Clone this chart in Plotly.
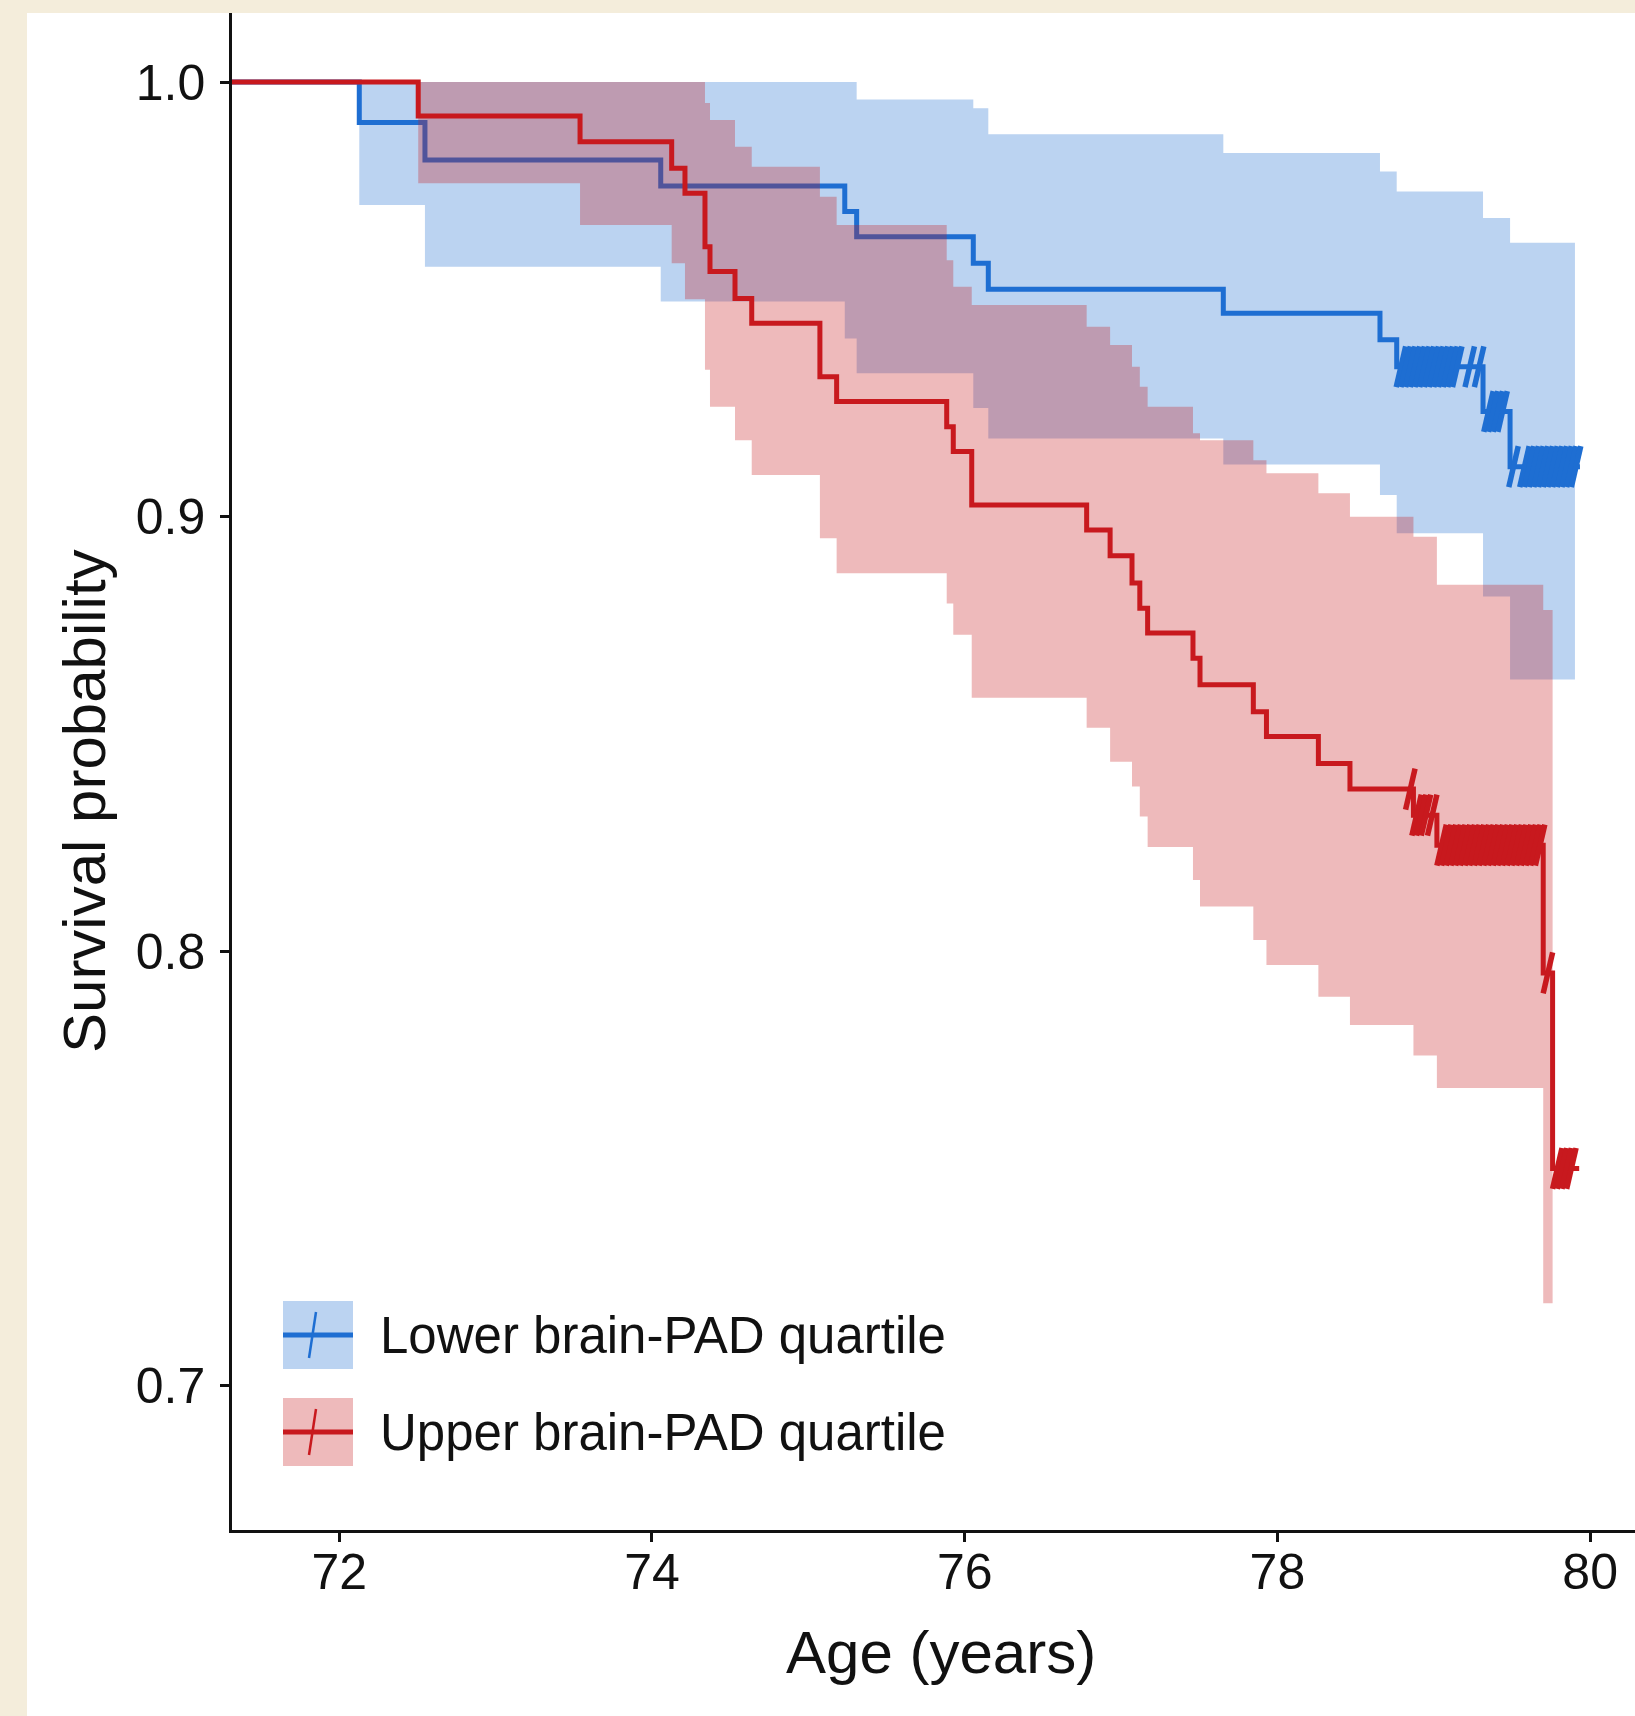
import plotly.graph_objects as go

# ---------------- data ----------------
x_start = 71.314            # start of follow-up (left edge of axis)
x_tick_vals = [72, 74, 76, 78, 80]
y_tick_vals = [0.7, 0.8, 0.9, 1.0]
y_tick_text = ["0.7", "0.8", "0.9", "1.0"]

series_names = ["Lower brain-PAD quartile", "Upper brain-PAD quartile"]

# Lower brain-PAD quartile (blue)
low_times = [72.128, 72.548, 74.056, 75.233, 75.309, 76.055, 76.151, 77.654,
             78.656, 78.763, 79.315, 79.488]
low_surv = [0.9907, 0.9821, 0.9761, 0.9702, 0.9644, 0.9583, 0.9523, 0.9468,
            0.9407, 0.9345, 0.9242, 0.9115]
low_ci_lower = [0.9717, 0.9575, 0.9495, 0.9410, 0.9330, 0.9250, 0.9180, 0.9120,
                0.9050, 0.8962, 0.8816, 0.8625]
low_ci_upper = [1.0, 1.0, 1.0, 1.0, 0.9960, 0.9940, 0.9880, 0.9837,
                0.9794, 0.9748, 0.9687, 0.9630]
low_line_end = 79.935
low_ci_end = 79.903
low_censor = [78.79, 78.82, 78.85, 78.88, 78.91, 78.94, 78.97, 79.00, 79.03,
              79.06, 79.09, 79.12, 79.15, 79.23, 79.29,
              79.35, 79.38, 79.41, 79.44,
              79.51, 79.58, 79.61, 79.64, 79.67, 79.70, 79.73, 79.76, 79.79,
              79.82, 79.85, 79.88, 79.91]

# Upper brain-PAD quartile (red)
up_times = [72.505, 73.540, 74.126, 74.211, 74.339, 74.371, 74.531, 74.638,
            75.074, 75.181, 75.885, 75.927, 76.045, 76.780, 76.930, 77.070,
            77.120, 77.170, 77.460, 77.505, 77.846, 77.930, 78.262, 78.464,
            78.870, 79.020, 79.700, 79.760]
up_surv = [0.9922, 0.9863, 0.9802, 0.9744, 0.9621, 0.9564, 0.9502, 0.9445,
           0.9322, 0.9265, 0.9207, 0.9150, 0.9027, 0.8969, 0.8910, 0.8847,
           0.8789, 0.8732, 0.8674, 0.8613, 0.8551, 0.8494, 0.8432, 0.8373,
           0.8313, 0.8244, 0.7950, 0.7500]
up_ci_lower = [0.9767, 0.9671, 0.9583, 0.9500, 0.9338, 0.9253, 0.9176, 0.9096,
               0.8950, 0.8870, 0.8800, 0.8728, 0.8583, 0.8514, 0.8436, 0.8379,
               0.8310, 0.8240, 0.8164, 0.8103, 0.8026, 0.7968, 0.7895, 0.7830,
               0.7760, 0.7685, 0.7190]
up_ci_upper = [1.0, 1.0, 1.0, 1.0, 0.9952, 0.9913, 0.9851, 0.9805,
               0.9736, 0.9671, 0.9590, 0.9529, 0.9487, 0.9437, 0.9395, 0.9345,
               0.9299, 0.9253, 0.9192, 0.9176, 0.9130, 0.9100, 0.9054, 0.9000,
               0.8954, 0.8843, 0.8785]
up_line_end = 79.930
up_ci_end = 79.760
up_censor = [78.85, 78.89, 78.92, 78.95, 78.99,
             79.05, 79.08, 79.11, 79.14, 79.17, 79.20, 79.23, 79.26, 79.29,
             79.32, 79.35, 79.38, 79.41, 79.44, 79.47, 79.50, 79.53, 79.56,
             79.59, 79.62, 79.65, 79.68,
             79.73, 79.79, 79.82, 79.85, 79.88]

# ---------------- styling ----------------
BLUE = "rgb(30,110,210)"
BLUE_FILL = "rgba(30,110,210,0.3)"
RED = "rgb(200,25,30)"
RED_FILL = "rgba(200,25,30,0.3)"
BEIGE = "#F4EDDB"
FONT = "Liberation Sans, Arial, Helvetica, sans-serif"

W, H = 1635, 1716
ML, MR, MT, MB = 232, 0, 13, 186
PW, PH = W - ML - MR, H - MT - MB


def px(xp):
    return (xp - ML) / PW


def py(yp):
    return (H - MB - yp) / PH


def step_at(times, surv, t):
    v = 1.0
    for ti, si in zip(times, surv):
        if ti <= t:
            v = si
    return v


def add_group(fig, times, surv, ci_lo, ci_hi, ci_end, line_end, censor,
              color, fill, name):
    n = len(ci_lo)
    rx = times[:n] + [ci_end]
    fig.add_trace(go.Scatter(x=rx, y=ci_lo + [ci_lo[-1]], mode="lines",
                             line=dict(width=0, shape="hv"), hoverinfo="skip",
                             showlegend=False))
    fig.add_trace(go.Scatter(x=rx, y=ci_hi + [ci_hi[-1]], mode="lines",
                             line=dict(width=0, shape="hv"), fill="tonexty",
                             fillcolor=fill, hoverinfo="skip", showlegend=False))
    fig.add_trace(go.Scatter(x=[x_start] + times + [line_end],
                             y=[1.0] + surv + [surv[-1]], mode="lines",
                             line=dict(color=color, width=5, shape="hv"),
                             name=name, showlegend=False))
    fig.add_trace(go.Scatter(x=censor, y=[step_at(times, surv, t) for t in censor],
                             mode="markers",
                             marker=dict(symbol="line-ns", size=30, angle=13,
                                         color=color,
                                         line=dict(color=color, width=5.5)),
                             showlegend=False, hoverinfo="skip"))


fig = go.Figure()
add_group(fig, low_times, low_surv, low_ci_lower, low_ci_upper, low_ci_end,
          low_line_end, low_censor, BLUE, BLUE_FILL, series_names[0])
add_group(fig, up_times, up_surv, up_ci_lower, up_ci_upper, up_ci_end,
          up_line_end, up_censor, RED, RED_FILL, series_names[1])

shapes = [
    # beige page strips at left and top
    dict(type="rect", xref="paper", yref="paper", x0=px(-10), x1=px(27),
         y0=py(H + 10), y1=py(-10), fillcolor=BEIGE, line=dict(width=0),
         layer="below"),
    dict(type="rect", xref="paper", yref="paper", x0=px(-10), x1=px(W + 10),
         y0=py(13), y1=py(-10), fillcolor=BEIGE, line=dict(width=0),
         layer="below"),
]
annotations = []

# manual legend (boxes, key lines, censor slashes, labels)
legend_rows = [(1335, BLUE, BLUE_FILL, series_names[0]),
               (1432, RED, RED_FILL, series_names[1])]
for cy, col, fcol, label in legend_rows:
    shapes.append(dict(type="rect", xref="paper", yref="paper",
                       x0=px(283), x1=px(353), y0=py(cy + 34), y1=py(cy - 34),
                       fillcolor=fcol, line=dict(width=0)))
    shapes.append(dict(type="line", xref="paper", yref="paper",
                       x0=px(283), x1=px(353), y0=py(cy), y1=py(cy),
                       line=dict(color=col, width=5)))
    shapes.append(dict(type="line", xref="paper", yref="paper",
                       x0=px(309), x1=px(316), y0=py(cy + 23), y1=py(cy - 23),
                       line=dict(color=col, width=2.5)))
    annotations.append(dict(text=label, xref="paper", yref="paper",
                            x=px(378), y=py(cy), xanchor="left", yanchor="middle",
                            showarrow=False, font=dict(size=51, color="#111",
                                                       family=FONT)))

annotations.append(dict(text="Age (years)", xref="paper", yref="paper",
                        x=px(941), y=py(1652), xanchor="center", yanchor="middle",
                        showarrow=False,
                        font=dict(size=60, color="#111", family=FONT)))
annotations.append(dict(text="Survival probability", xref="paper", yref="paper",
                        x=px(84), y=py(801), xanchor="center", yanchor="middle",
                        textangle=-90, showarrow=False,
                        font=dict(size=60, color="#111", family=FONT)))

fig.update_layout(
    width=W, height=H,
    margin=dict(l=ML, r=MR, t=MT, b=MB, pad=0),
    paper_bgcolor="white",
    plot_bgcolor="rgba(0,0,0,0)",
    showlegend=False,
    shapes=shapes,
    annotations=annotations,
    font=dict(family=FONT, color="#111"),
    xaxis=dict(range=[x_start, 80.287], tickvals=x_tick_vals,
               ticks="outside", ticklen=9, tickwidth=2.5, tickcolor="#111",
               showline=True, linewidth=2.5, linecolor="#111",
               showgrid=False, zeroline=False,
               tickfont=dict(size=50, color="#111", family=FONT),
               ticklabelstandoff=-13),
    yaxis=dict(range=[0.6668, 1.0159], tickvals=y_tick_vals,
               ticktext=y_tick_text,
               ticks="outside", ticklen=9, tickwidth=2.5, tickcolor="#111",
               showline=True, linewidth=2.5, linecolor="#111",
               showgrid=False, zeroline=False,
               tickfont=dict(size=50, color="#111", family=FONT),
               ticklabelstandoff=5),
)

fig.write_html(
    "out.html",
    config={"displayModeBar": False},
    post_script="document.body.style.margin='0px';"
                "document.body.style.padding='0px';"
                "document.body.style.background='" + BEIGE + "';",
)
